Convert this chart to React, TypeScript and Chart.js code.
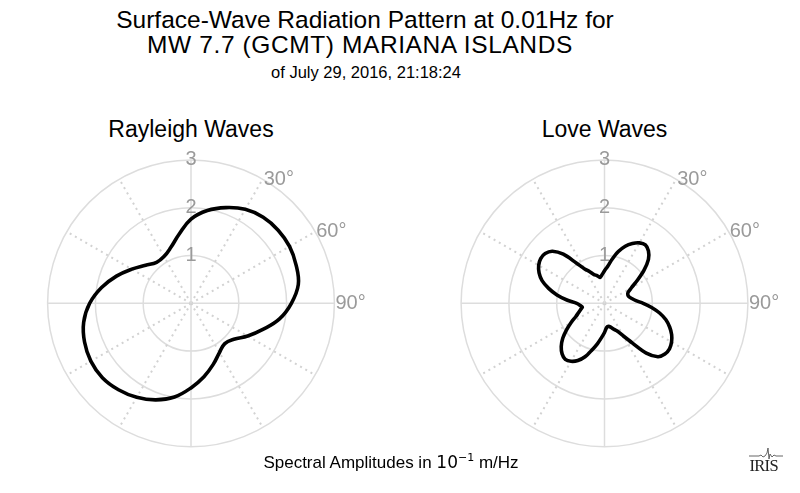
import React, { useEffect, useRef } from 'react';
import { Chart, registerables } from 'chart.js';

Chart.register(...registerables);

// ---------- data ----------
const TITLE_LINES = [
  'Surface-Wave Radiation Pattern at 0.01Hz for',
  'MW 7.7 (GCMT) MARIANA ISLANDS',
];
const SUBTITLE = 'of July 29, 2016, 21:18:24';
const PANEL_TITLES = ['Rayleigh Waves', 'Love Waves'];

const RAYLEIGH_AZIMUTHS = [
  0, 10, 20, 30, 40, 50, 60, 70, 80, 90, 100, 110, 120, 130, 140, 150, 160, 170,
  180, 190, 200, 210, 220, 230, 240, 250, 260, 270, 280, 290, 300, 310, 320, 330, 340, 350,
];
const RAYLEIGH_AMPLITUDES = [
  1.76, 1.97, 2.13, 2.27, 2.35, 2.38, 2.38, 2.34, 2.28, 2.10, 1.88, 1.60, 1.37, 1.17, 1.10, 1.19, 1.36, 1.56,
  1.77, 1.99, 2.15, 2.27, 2.36, 2.42, 2.42, 2.37, 2.28, 2.12, 1.90, 1.66, 1.43, 1.24, 1.12, 1.13, 1.24, 1.46,
];

const LOVE_AZIMUTHS = [
  0, 5, 10, 15, 20, 25, 30, 35, 40, 45, 50, 55, 60, 65, 70, 75, 80, 85,
  90, 95, 100, 105, 110, 115, 120, 125, 130, 135, 140, 145, 150, 155, 160, 165, 170, 175,
  180, 185, 190, 195, 200, 205, 210, 215, 220, 225, 230, 235, 240, 245, 250, 255, 260, 265,
  270, 275, 280, 285, 290, 295, 300, 305, 310, 315, 320, 325, 330, 335, 340, 345, 350, 355,
];
const LOVE_AMPLITUDES = [
  0.68, 0.78, 0.94, 1.12, 1.27, 1.38, 1.46, 1.49, 1.43, 1.30, 1.08, 0.84, 0.65, 0.545, 0.52, 0.53, 0.58, 0.66,
  0.81, 0.99, 1.17, 1.33, 1.45, 1.55, 1.62, 1.66, 1.65, 1.58, 1.36, 1.01, 0.79, 0.645, 0.58, 0.52, 0.49, 0.51,
  0.61, 0.72, 0.86, 1.01, 1.19, 1.32, 1.40, 1.43, 1.38, 1.28, 1.14, 0.97, 0.81, 0.665, 0.58, 0.52, 0.47, 0.51,
  0.58, 0.79, 1.01, 1.21, 1.39, 1.51, 1.59, 1.63, 1.62, 1.54, 1.34, 1.03, 0.83, 0.73, 0.64, 0.60, 0.55, 0.60,
];

const R_MIN = 0;
const R_MAX = 3;
const R_STEP = 1;
const ANGLE_TICK_DEGREES = [30, 60, 90];
const ANGLE_TICK_LABELS = ['30°', '60°', '90°'];

// ---------- style / layout ----------
const FONT = '"Liberation Sans", Arial, Helvetica, sans-serif';
const TICK_COLOR = '#9a9a9a';
const GRID_COLOR = '#dddddd';
const DOT_COLOR = '#d2d2d2';
const TICK_FONT_SIZE = 20;
const CANVAS_W = 400;
const CANVAS_H = 353;
const CANVAS_TOP = 140;
const CENTER_Y = 163.3;
const RADIUS = 143.4;

const angleLabelPlugin = {
  id: 'angleLabels',
  afterDraw(chart: any) {
    const scale = chart.scales.r;
    const ctx = chart.ctx;
    const azimuths = chart.data.labels as number[];
    ctx.save();
    ctx.font = `${TICK_FONT_SIZE}px ${FONT}`;
    ctx.fillStyle = TICK_COLOR;
    ctx.textAlign = 'left';
    ctx.textBaseline = 'middle';
    ANGLE_TICK_DEGREES.forEach((deg, k) => {
      const i = azimuths.indexOf(deg);
      if (i < 0) return;
      const p = scale.getPointPositionForValue(i, R_MAX);
      ctx.fillText(ANGLE_TICK_LABELS[k], p.x + 1, p.y);
    });
    ctx.restore();
  },
};

function PolarPanel(props: { azimuths: number[]; amplitudes: number[]; left: number; centerX: number; tension: number }) {
  const ref = useRef<HTMLCanvasElement | null>(null);
  useEffect(() => {
    if (!ref.current) return;
    const az = props.azimuths;
    const chart = new Chart(ref.current, {
      type: 'radar',
      data: {
        labels: az,
        datasets: [
          {
            data: props.amplitudes,
            borderColor: '#000000',
            backgroundColor: 'rgba(0,0,0,0)',
            borderWidth: 3.6,
            fill: false,
            pointRadius: 0,
            pointHoverRadius: 0,
            tension: props.tension,
            borderJoinStyle: 'round',
          } as any,
        ],
      },
      options: {
        animation: false,
        responsive: false,
        events: [],
        layout: { padding: 0 },
        plugins: {
          legend: { display: false },
          tooltip: { enabled: false },
          title: { display: false },
        },
        scales: {
          r: {
            min: R_MIN,
            max: R_MAX,
            startAngle: 0,
            ticks: {
              stepSize: R_STEP,
              showLabelBackdrop: false,
              color: TICK_COLOR,
              font: { size: TICK_FONT_SIZE, family: FONT },
            },
            grid: { circular: true, color: GRID_COLOR, lineWidth: 1.5 },
            angleLines: {
              display: true,
              color: (c: any) => (az[c.index] % 90 === 0 ? GRID_COLOR : DOT_COLOR),
              lineWidth: (c: any) => (az[c.index] % 90 === 0 ? 1.5 : az[c.index] % 30 === 0 ? 2 : 0),
              borderDash: (c: any) => (az[c.index] % 90 === 0 ? [] : [2, 4]),
            },
            pointLabels: { display: false },
            afterFit: (s: any) => {
              s.xCenter = props.centerX;
              s.yCenter = CENTER_Y;
              s.drawingArea = RADIUS;
            },
          } as any,
        },
      },
      plugins: [angleLabelPlugin],
    } as any);
    return () => chart.destroy();
  }, []);
  return (
    <canvas
      ref={ref}
      width={CANVAS_W}
      height={CANVAS_H}
      style={{ position: 'absolute', left: props.left, top: CANVAS_TOP, width: CANVAS_W, height: CANVAS_H }}
    />
  );
}

export default function App() {
  const abs: React.CSSProperties = { position: 'absolute', whiteSpace: 'nowrap', color: '#000' };
  return (
    <div
      style={{
        position: 'fixed',
        left: 0,
        top: 0,
        width: 800,
        height: 493,
        background: '#ffffff',
        fontFamily: FONT,
        overflow: 'hidden',
      }}
    >
      <div style={{ ...abs, left: 65, top: 5.5, width: 600, textAlign: 'center', fontSize: 24.5, lineHeight: '28px' }}>
        {TITLE_LINES[0]}
      </div>
      <div
        style={{
          ...abs,
          left: 60,
          top: 30.8,
          width: 600,
          textAlign: 'center',
          fontSize: 24.5,
          lineHeight: '28px',
          letterSpacing: 0.6,
        }}
      >
        {TITLE_LINES[1]}
      </div>
      <div style={{ ...abs, left: 66, top: 62.8, width: 600, textAlign: 'center', fontSize: 16.5, lineHeight: '18px' }}>
        {SUBTITLE}
      </div>
      <div style={{ ...abs, left: 41, top: 115.7, width: 300, textAlign: 'center', fontSize: 23, lineHeight: '26px' }}>
        {PANEL_TITLES[0]}
      </div>
      <div style={{ ...abs, left: 454.5, top: 115.7, width: 300, textAlign: 'center', fontSize: 23, lineHeight: '26px' }}>
        {PANEL_TITLES[1]}
      </div>

      <PolarPanel azimuths={RAYLEIGH_AZIMUTHS} amplitudes={RAYLEIGH_AMPLITUDES} left={0} centerX={191} tension={0.4} />
      <PolarPanel azimuths={LOVE_AZIMUTHS} amplitudes={LOVE_AMPLITUDES} left={400} centerX={204.5} tension={0.3} />

      <div style={{ ...abs, left: 191, top: 452.4, width: 400, textAlign: 'center', fontSize: 17, lineHeight: '20px' }}>
        Spectral Amplitudes in{' '}
        <span style={{ fontFamily: '"DejaVu Sans", sans-serif', fontSize: 17 }}>
          10
          <span style={{ fontSize: 11, position: 'relative', top: -7 }}>−1</span>
        </span>{' '}
        m/Hz
      </div>

      <svg style={{ position: 'absolute', left: 747, top: 447 }} width={38} height={14}>
        <polyline
          points="2,9 12,9 14,8 16,10 18,9 20,6 21,1 22,12 23,7 25,10 27,8 29,9 36,9"
          fill="none"
          stroke="#555"
          strokeWidth={0.9}
        />
      </svg>
      <div
        style={{
          ...abs,
          left: 749.5,
          top: 457,
          fontFamily: '"Liberation Serif", "Times New Roman", serif',
          fontSize: 16.5,
          lineHeight: '18px',
          letterSpacing: -0.7,
          color: '#222',
        }}
      >
        IRIS
      </div>
    </div>
  );
}
